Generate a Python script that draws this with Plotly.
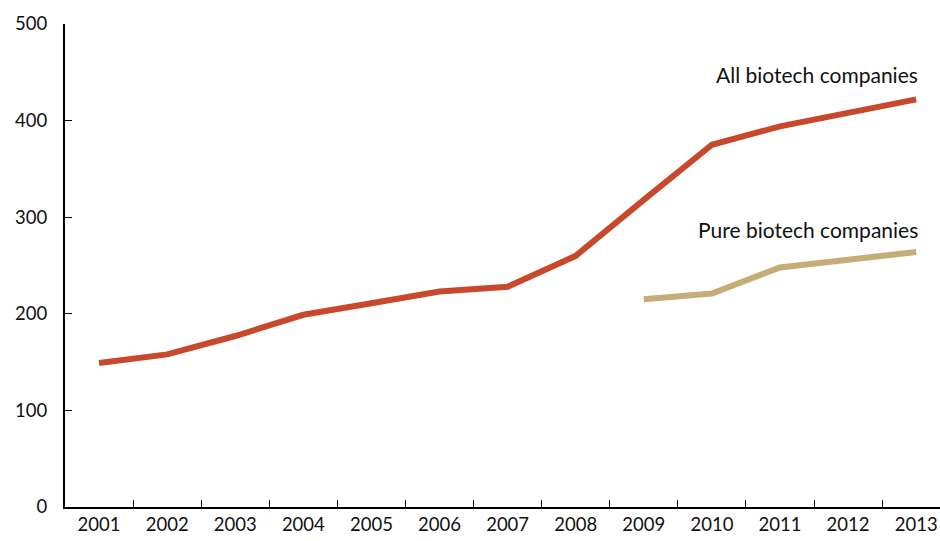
import plotly.graph_objects as go

years = ["2001", "2002", "2003", "2004", "2005", "2006", "2007",
         "2008", "2009", "2010", "2011", "2012", "2013"]
all_biotech = [149, 158, 177, 199, 211, 223, 228, 260, 318, 375, 394, 408, 422]
pure_years = ["2009", "2010", "2011", "2012", "2013"]
pure_biotech = [215, 221, 248, 256, 264]
y_ticks = [0, 100, 200, 300, 400, 500]

RED = "#C8482C"
TAN = "#C4AD77"
FONT = "Lato, 'Open Sans', sans-serif"

fig = go.Figure()
fig.add_trace(go.Scatter(x=years, y=all_biotech, mode="lines",
                         line=dict(color=RED, width=6), showlegend=False))
fig.add_trace(go.Scatter(x=pure_years, y=pure_biotech, mode="lines",
                         line=dict(color=TAN, width=6), showlegend=False))

fig.add_annotation(x=12, y=all_biotech[-1], text="All biotech companies",
                   xanchor="right", yanchor="bottom", yshift=10, xshift=4,
                   showarrow=False, font=dict(size=21, color="#111", family=FONT))
fig.add_annotation(x=12, y=pure_biotech[-1], text="Pure biotech companies",
                   xanchor="right", yanchor="bottom", yshift=8, xshift=4,
                   showarrow=False, font=dict(size=21, color="#111", family=FONT))

fig.update_layout(
    width=940, height=541,
    margin=dict(l=65, r=0, t=24, b=34),
    plot_bgcolor="white", paper_bgcolor="white",
    font=dict(family=FONT, size=18.5, color="#111"),
    xaxis=dict(
        type="category", categoryorder="array", categoryarray=years,
        range=[-0.5, 12.35],
        showline=True, linecolor="black", linewidth=2,
        ticks="inside", ticklen=7, tickcolor="black", tickwidth=1,
        tickson="boundaries", showgrid=False, zeroline=False,
    ),
    yaxis=dict(
        range=[0, 500], tickvals=y_ticks,
        showline=True, linecolor="black", linewidth=2,
        ticks="inside", ticklen=7, tickcolor="black", tickwidth=1,
        showgrid=False, zeroline=False, ticklabelstandoff=12,
    ),
)

fig.write_html("out.html")
